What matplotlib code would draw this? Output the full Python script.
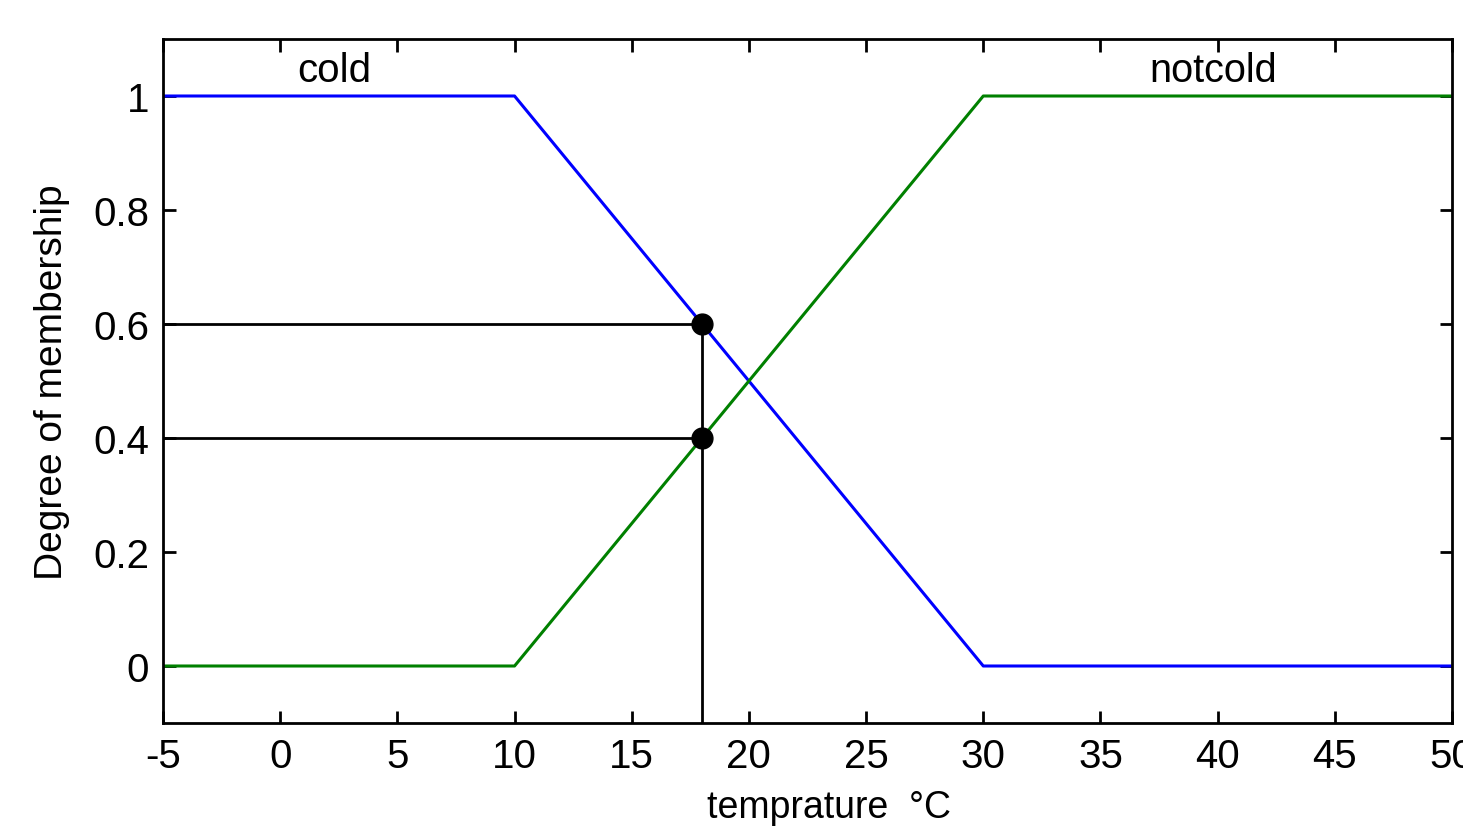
import matplotlib
matplotlib.use("Agg")
import matplotlib.pyplot as plt

plt.rcParams['font.family'] = ['Liberation Sans', 'DejaVu Sans']

# membership functions (trapezoids)
temp = [-5, 10, 30, 50]
cold = [1, 1, 0, 0]
notcold = [0, 0, 1, 1]

# input value and its membership degrees
x_in = 18
mu_cold = 0.6
mu_notcold = 0.4

xticks = [-5, 0, 5, 10, 15, 20, 25, 30, 35, 40, 45, 50]
yticks = [0, 0.2, 0.4, 0.6, 0.8, 1]
ytick_labels = ['0', '0.2', '0.4', '0.6', '0.8', '1']

fig = plt.figure(figsize=(14.63, 8.28), dpi=100)
ax = fig.add_axes([163 / 1463, 1 - 724 / 828, 1289 / 1463, 684 / 828])

ax.plot(temp, cold, color='#0000ff', lw=2.2)
ax.plot(temp, notcold, color='#008000', lw=2.2)

# projection lines
ax.plot([-5, x_in], [mu_cold, mu_cold], color='black', lw=2)
ax.plot([-5, x_in], [mu_notcold, mu_notcold], color='black', lw=2)
ax.plot([x_in, x_in], [-0.1, mu_cold], color='black', lw=2)
ax.plot([x_in, x_in], [mu_cold, mu_notcold], 'o', color='black', ms=15)

ax.text(2.3, 1.045, 'cold', ha='center', va='center', fontsize=29)
ax.text(39.8, 1.045, 'notcold', ha='center', va='center', fontsize=28.5)

ax.set_xlim(-5, 50)
ax.set_ylim(-0.1, 1.1)
ax.set_xticks(xticks)
ax.set_xticklabels([str(t) for t in xticks])
ax.set_yticks(yticks)
ax.set_yticklabels(ytick_labels)
ax.tick_params(direction='in', length=9, width=2, top=True, right=True,
               labelsize=29, pad=10)
for s in ax.spines.values():
    s.set_linewidth(2)

ax.set_ylabel('Degree of membership', fontsize=28)
ax.yaxis.set_label_coords(-0.072, 0.5)
ax.set_xlabel('temprature  °C', fontsize=27)
ax.xaxis.set_label_coords(0.517, -0.097)

fig.savefig('out.png', dpi=100)
